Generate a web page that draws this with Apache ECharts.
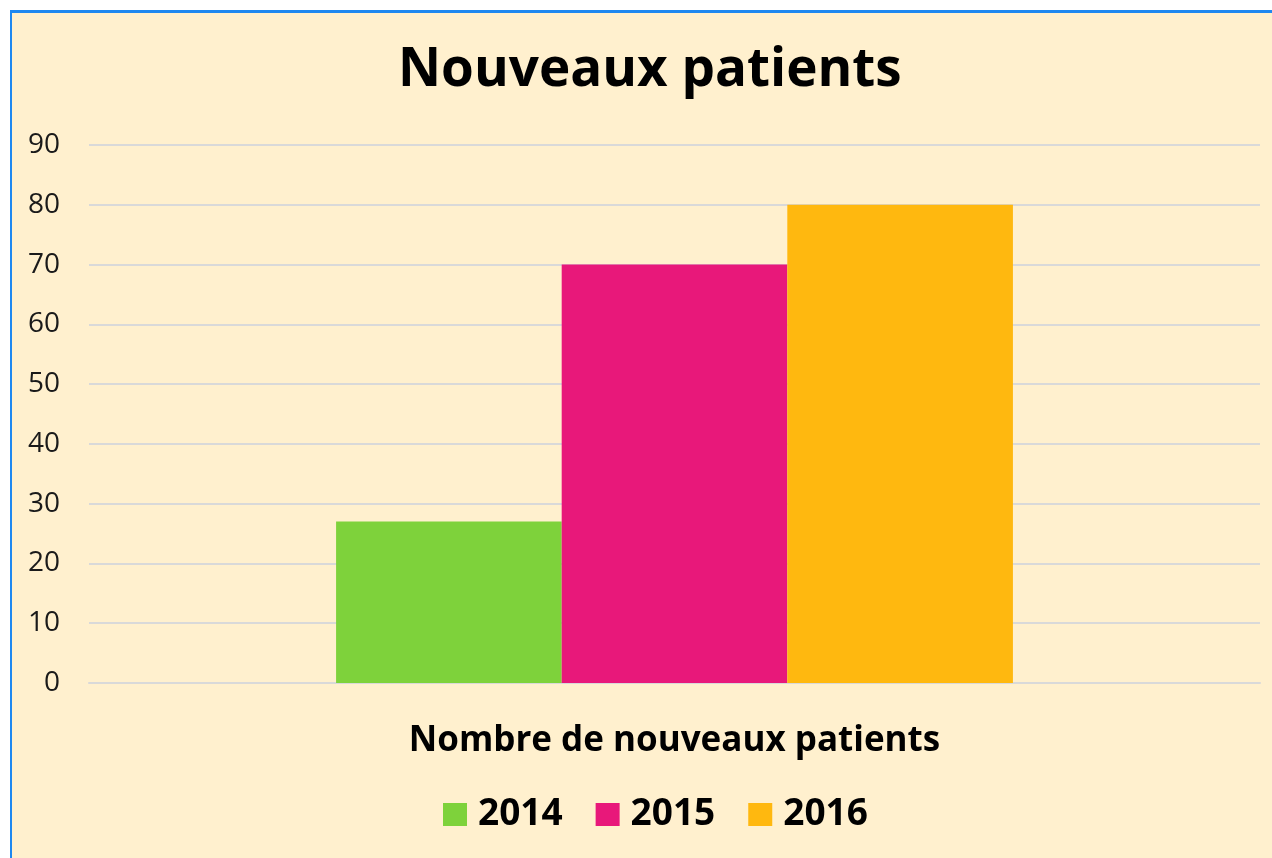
<!DOCTYPE html>
<html><head><meta charset="utf-8">
<script src="https://cdn.jsdelivr.net/npm/echarts@6/dist/echarts.min.js"></script>
<style>
html,body{margin:0;padding:0;background:#fff;width:1272px;height:858px;overflow:hidden}
#bg{position:absolute;left:10px;top:10px;width:1262px;height:848px;background:#FFF0CE;border-left:2px solid #1E88F0;border-top:3px solid #1E88F0;box-sizing:border-box}
#c{position:absolute;left:0;top:0;width:1272px;height:858px}
</style></head>
<body><div id="bg"></div><div id="c"></div>
<script>
const categories = ['Nombre de nouveaux patients'];
const seriesNames = ['2014', '2015', '2016'];
const values2014 = [27];
const values2015 = [70];
const values2016 = [80];
const colors = ['#7ED23B', '#E8187A', '#FFB80F'];

const chart = echarts.init(document.getElementById('c'), null, {renderer: 'canvas'});
const font = '"Open Sans", sans-serif';
const data = [values2014, values2015, values2016];
chart.setOption({
  backgroundColor: 'transparent',
  animation: false,
  title: {
    text: 'Nouveaux patients', left: 393, top: 39,
    textStyle: {fontFamily: font, fontWeight: 'bold', fontSize: 53, color: '#000'}
  },
  grid: {left: 89, right: 12, top: 145, bottom: 175},
  legend: {
    bottom: 20, left: 438, itemWidth: 24, itemHeight: 23, itemGap: 33,
    icon: 'rect',
    textStyle: {fontFamily: font, fontWeight: 'bold', fontSize: 37, color: '#000', padding: [0,0,0,6]},
    data: seriesNames
  },
  xAxis: {
    type: 'category', data: categories,
    axisLine: {show: true, lineStyle: {color: '#D9D9D9', width: 2}},
    axisTick: {show: false},
    axisLabel: {margin: 41, fontFamily: font, fontWeight: 'bold', fontSize: 35, color: '#000'}
  },
  yAxis: {
    type: 'value', min: 0, max: 90, interval: 10,
    axisLine: {show: false}, axisTick: {show: false},
    splitLine: {lineStyle: {color: '#D9D9D9', width: 2}},
    axisLabel: {margin: 29, fontFamily: font, fontSize: 28, color: '#1A1A1A'}
  },
  series: seriesNames.map((n, i) => ({
    name: n, type: 'bar', data: data[i], barGap: '0%', barCategoryGap: '42.2%',
    itemStyle: {color: colors[i]}
  }))
});
</script></body></html>
